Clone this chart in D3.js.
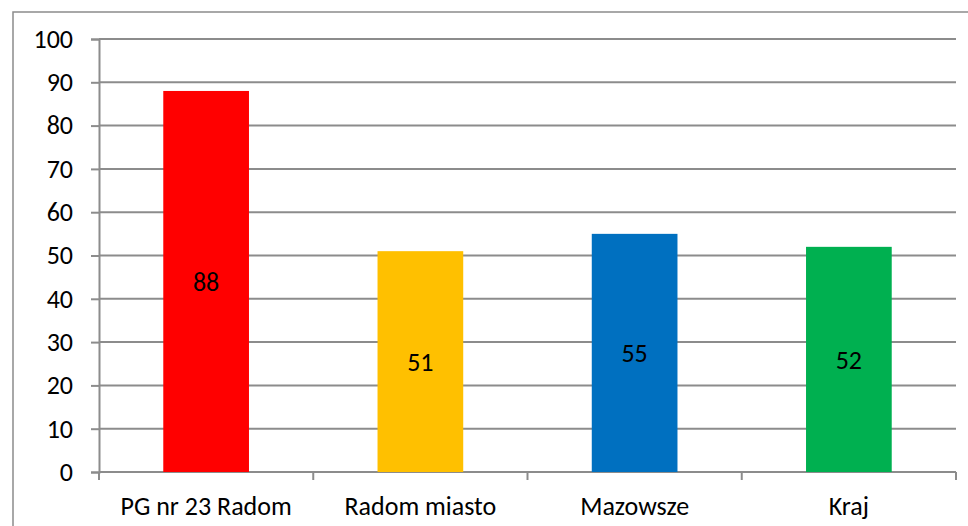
<!DOCTYPE html>
<html>
<head>
<meta charset="utf-8">
<script src="https://cdn.jsdelivr.net/npm/d3@7"></script>
<style>
  body { margin: 0; background: #fff; }
  svg { display: block; }
</style>
</head>
<body>
<div id="chart"></div>
<script>
const categories = ['PG nr 23 Radom', 'Radom miasto', 'Mazowsze', 'Kraj'];
const values = [88, 51, 55, 52];
const barColors = ['#ff0000', '#ffc000', '#0070c0', '#00b050'];
const yTicks = [0, 10, 20, 30, 40, 50, 60, 70, 80, 90, 100];

const W = 968, H = 526;
const margin = {top: 39, right: 12, bottom: 54, left: 99};
const width = W - margin.left - margin.right,
      height = H - margin.top - margin.bottom;
const fontFamily = 'Carlito, Calibri, "Open Sans", sans-serif';

const svg = d3.select('#chart').append('svg')
  .attr('width', W)
  .attr('height', H)
  .style('font-family', fontFamily);

// outer chart frame
svg.append('rect')
  .attr('x', 13).attr('y', 12)
  .attr('width', W + 20).attr('height', H + 20)
  .attr('fill', 'none')
  .attr('stroke', '#8c8c8c')
  .attr('stroke-width', 1.5);

const g = svg.append('g')
  .attr('transform', 'translate(' + margin.left + ',' + margin.top + ')');

const x = d3.scaleBand()
  .domain(categories)
  .range([0, width])
  .paddingInner(0.6)
  .paddingOuter(0.3);

const y = d3.scaleLinear()
  .domain([0, 100])
  .range([height, 0]);

// gridlines
g.append('g')
  .selectAll('line')
  .data(yTicks)
  .enter()
  .append('line')
    .attr('x1', 0).attr('x2', width)
    .attr('y1', d => y(d)).attr('y2', d => y(d))
    .attr('stroke', '#8c8c8c')
    .attr('stroke-width', 2);

// Y axis
const yAxis = g.append('g')
  .call(d3.axisLeft(y).tickValues(yTicks).tickSize(8).tickPadding(18));
yAxis.select('.domain').attr('stroke', '#8c8c8c').attr('stroke-width', 2);
yAxis.selectAll('.tick line').attr('stroke', '#8c8c8c').attr('stroke-width', 2);
yAxis.selectAll('text').attr('font-size', 26).attr('fill', '#000')
  .attr('font-family', fontFamily);

// X axis with ticks between categories
const step = width / categories.length;
const xAxis = g.append('g').attr('transform', 'translate(0,' + height + ')');
xAxis.append('line')
  .attr('x1', 0).attr('x2', width)
  .attr('stroke', '#8c8c8c').attr('stroke-width', 2);
xAxis.selectAll('.xtick')
  .data(d3.range(categories.length + 1))
  .enter()
  .append('line')
    .attr('x1', d => d * step).attr('x2', d => d * step)
    .attr('y1', 0).attr('y2', 8)
    .attr('stroke', '#8c8c8c').attr('stroke-width', 2);
xAxis.selectAll('.xlabel')
  .data(categories)
  .enter()
  .append('text')
    .attr('x', d => x(d) + x.bandwidth() / 2)
    .attr('y', 43)
    .attr('text-anchor', 'middle')
    .attr('font-size', 26)
    .attr('fill', '#000')
    .text(d => d);

// bars
g.append('g')
  .selectAll('rect')
  .data(values)
  .enter()
  .append('rect')
    .attr('x', (d, i) => x(categories[i]))
    .attr('y', d => y(d))
    .attr('width', x.bandwidth())
    .attr('height', d => height - y(d))
    .attr('fill', (d, i) => barColors[i]);

// value labels
g.append('g')
  .selectAll('text')
  .data(values)
  .enter()
  .append('text')
    .attr('x', (d, i) => x(categories[i]) + x.bandwidth() / 2)
    .attr('y', d => (y(d) + height) / 2)
    .attr('dy', '0.35em')
    .attr('text-anchor', 'middle')
    .attr('font-size', 26)
    .attr('fill', '#000')
    .text(d => d);
</script>
</body>
</html>
